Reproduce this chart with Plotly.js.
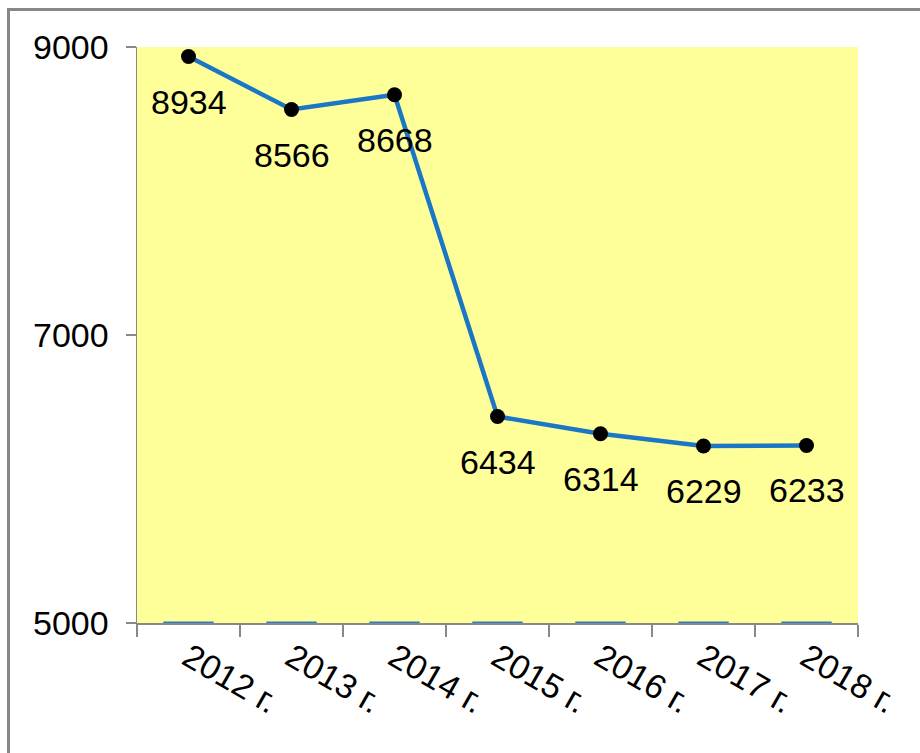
<!DOCTYPE html>
<html>
<head>
<meta charset="utf-8">
<script src="https://cdn.plot.ly/plotly-3.0.1.min.js"></script>
<style>
  html, body { margin: 0; padding: 0; background: #ffffff; }
  #wrap { position: relative; width: 920px; height: 753px; overflow: hidden; }
  #frame { position: absolute; left: 7px; top: 8px; width: 960px; height: 800px;
           border-left: 3px solid #878787; border-top: 3px solid #878787; box-sizing: border-box; pointer-events: none; z-index: 5; }
  #chart { position: absolute; left: 0; top: 0; width: 920px; height: 753px; }
</style>
</head>
<body>
<div id="wrap">
  <div id="chart"></div>
  <div id="frame"></div>
</div>
<script>
const categories = ['2012 г.', '2013 г.', '2014 г.', '2015 г.', '2016 г.', '2017 г.', '2018 г.'];
const values = [8934, 8566, 8668, 6434, 6314, 6229, 6233];
const floorSeries = [5000, 5000, 5000, 5000, 5000, 5000, 5000];
const yTicks = [5000, 7000, 9000];

const FONT = 'Liberation Sans, Arial, sans-serif';

const traces = [
  {
    type: 'scatter',
    mode: 'markers',
    x: categories,
    y: floorSeries,
    cliponaxis: false,
    hoverinfo: 'skip',
    marker: { symbol: 'line-ew', size: 36, line: { color: '#2a7cc6', width: 3 } },
    showlegend: false
  },
  {
    type: 'scatter',
    mode: 'lines+markers',
    x: categories,
    y: values,
    cliponaxis: false,
    line: { color: '#1b76c6', width: 4.5 },
    marker: { color: '#000000', size: 15 },
    showlegend: false
  }
];

const annotations = categories.map((c, i) => ({
  x: c, y: values[i], xref: 'x', yref: 'y',
  text: String(values[i]), showarrow: false,
  yanchor: 'middle', xanchor: 'center', yshift: -45,
  font: { family: FONT, size: 34, color: '#000000' }
}));

const layout = {
  width: 920, height: 753,
  margin: { l: 137, r: 62, t: 47, b: 130 },
  paper_bgcolor: '#ffffff',
  plot_bgcolor: '#ffff99',
  font: { family: FONT, size: 34, color: '#000000' },
  showlegend: false,
  xaxis: {
    type: 'category',
    range: [-0.5, categories.length - 0.5],
    tickangle: 30,
    tickson: 'boundaries',
    ticks: 'outside', ticklen: 12, tickcolor: '#888888', tickwidth: 1.5,
    showline: true, linecolor: '#888888', linewidth: 1.5,
    showgrid: false, zeroline: false,
    tickfont: { family: FONT, size: 34, color: '#000000' }
  },
  yaxis: {
    range: [5000, 9000],
    tickvals: yTicks,
    ticktext: yTicks.map(String),
    ticks: 'outside', ticklen: 10, tickcolor: '#888888', tickwidth: 1.5,
    showline: true, linecolor: '#888888', linewidth: 1.5,
    showgrid: false, zeroline: false,
    ticklabelstandoff: 10,
    tickfont: { family: FONT, size: 34, color: '#000000' }
  },
  annotations: annotations
};

Plotly.newPlot('chart', traces, layout, { displayModeBar: false, staticPlot: true });
</script>
</body>
</html>
